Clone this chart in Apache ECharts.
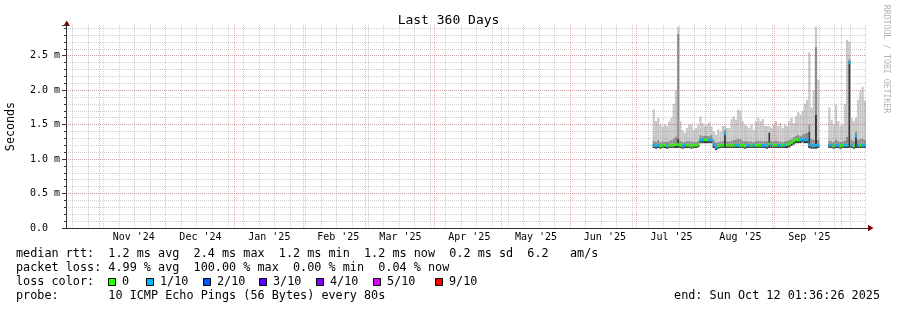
<!DOCTYPE html>
<html><head><meta charset="utf-8">
<script src="https://cdn.jsdelivr.net/npm/echarts@6/dist/echarts.min.js"></script>
<style>html,body{margin:0;padding:0;background:#fff}#c{width:897px;height:310px}</style>
</head><body><div id="c"></div>
<script>
// ---------------- data ----------------
const graphStartUTC = [2024, 9, 17, 1, 36, 26];   // window start (Oct 17 2024 01:36:26)
const graphDays = 360;
const firstDataDay = '2025-07-08';    // first day with measurements
const monthNames = ['Jan','Feb','Mar','Apr','May','Jun','Jul','Aug','Sep','Oct','Nov','Dec'];

// values in milliseconds, one per day from firstDataDay (null = no data)
const medianMs = [
  1.20,1.19,1.20,1.19,1.20,1.20,1.19,1.20,1.20,1.20,1.21,1.21,1.20,1.19,1.20,1.20,1.20,1.19,1.20,1.20,1.21,
  1.28,1.28,1.28,1.28,1.28,1.28,
  1.21,1.17,1.19,1.20,1.20,1.37,1.20,1.20,1.20,1.20,1.20,1.20,1.20,1.20,1.19,1.20,1.20,1.20,1.20,1.20,
  1.20,1.20,1.20,1.20,1.19,1.22,1.20,1.20,1.20,1.20,1.20,1.20,1.20,1.21,1.22,1.24,1.26,1.28,1.28,1.28,
  1.29,1.28,1.28,1.21,1.20,1.19,1.20,1.20,
  null,null,null,null,
  1.20,1.20,1.19,1.20,1.20,1.19,1.20,1.20,1.20,2.40,1.20,1.19,1.33,1.20,1.20,1.20,1.20
];
const lossPings = [
  1,1,1,0,0,0,1,0,0,0,0,0,0,1,1,0,0,0,0,0,0,
  1,1,0,0,1,1,
  1,1,0,0,0,1,0,0,0,0,1,1,0,0,0,1,1,0,1,0,
  0,0,1,1,1,0,1,0,0,1,1,0,1,0,0,0,0,0,0,1,
  1,1,1,1,1,1,1,1,
  null,null,null,null,
  1,1,0,1,1,0,0,1,1,1,1,0,1,1,0,1,1
];
const smokeMinMs = [
  1.16,1.15,1.16,1.15,1.16,1.16,1.15,1.16,1.16,1.16,1.16,1.16,1.16,1.15,1.16,1.16,1.16,1.15,1.16,1.16,1.17,
  1.23,1.23,1.23,1.23,1.23,1.23,
  1.16,1.13,1.15,1.16,1.16,1.16,1.16,1.16,1.16,1.16,1.16,1.16,1.16,1.16,1.15,1.16,1.16,1.16,1.16,1.16,
  1.16,1.16,1.16,1.16,1.15,1.16,1.16,1.16,1.16,1.16,1.16,1.16,1.16,1.16,1.17,1.19,1.21,1.23,1.23,1.23,
  1.24,1.23,1.23,1.16,1.15,1.15,1.15,1.16,
  null,null,null,null,
  1.16,1.16,1.15,1.16,1.16,1.15,1.16,1.16,1.16,1.16,1.16,1.15,1.16,1.16,1.16,1.16,1.16
];
const smokeDarkMs = [
  1.22,1.21,1.22,1.21,1.22,1.22,1.21,1.22,1.22,1.22,1.23,1.30,1.22,1.21,1.22,1.22,1.22,1.21,1.22,1.22,1.23,
  1.30,1.30,1.30,1.30,1.30,1.30,
  1.23,1.19,1.21,1.22,1.22,1.40,1.22,1.22,1.22,1.22,1.22,1.22,1.22,1.22,1.21,1.22,1.22,1.22,1.22,1.22,
  1.22,1.22,1.22,1.22,1.21,1.38,1.22,1.22,1.22,1.22,1.22,1.22,1.22,1.23,1.24,1.26,1.28,1.30,1.30,1.30,
  1.31,1.30,1.30,1.40,1.22,1.21,1.64,1.22,
  null,null,null,null,
  1.22,1.22,1.21,1.22,1.22,1.21,1.22,1.22,1.22,2.43,1.22,1.21,1.35,1.22,1.22,1.22,1.22
];
const smokeMidMs = [
  1.27,1.25,1.28,1.25,1.26,1.25,1.25,1.27,1.28,1.30,1.33,2.82,1.27,1.25,1.25,1.26,1.27,1.26,1.25,1.25,1.27,
  1.35,1.34,1.34,1.34,1.34,1.35,
  1.28,1.24,1.25,1.26,1.26,1.42,1.26,1.26,1.27,1.28,1.28,1.30,1.29,1.27,1.26,1.26,1.26,1.26,1.25,1.27,
  1.27,1.27,1.26,1.26,1.26,1.40,1.26,1.26,1.27,1.26,1.26,1.25,1.26,1.27,1.28,1.30,1.32,1.34,1.35,1.34,
  1.36,1.37,1.38,1.50,1.30,1.28,2.63,1.28,
  null,null,null,null,
  1.27,1.26,1.25,1.28,1.26,1.25,1.26,1.27,1.32,2.45,1.28,1.26,1.40,1.28,1.30,1.30,1.28
];
const smokeMaxMs = [
  1.72,1.55,1.60,1.50,1.47,1.50,1.48,1.55,1.60,1.80,2.00,2.92,1.55,1.42,1.38,1.45,1.50,1.50,1.42,1.45,1.50,
  1.62,1.52,1.48,1.50,1.53,1.47,
  1.40,1.35,1.43,1.40,1.48,1.48,1.45,1.45,1.58,1.62,1.57,1.72,1.70,1.55,1.50,1.48,1.45,1.50,1.42,1.55,
  1.60,1.55,1.58,1.48,1.48,1.48,1.45,1.50,1.55,1.48,1.52,1.45,1.50,1.48,1.55,1.60,1.52,1.62,1.68,1.65,
  1.70,1.80,1.86,2.55,1.75,2.00,2.92,2.15,
  null,null,null,null,
  1.75,1.57,1.50,1.79,1.55,1.48,1.50,1.80,2.73,2.70,1.60,1.55,1.60,1.86,1.99,2.05,1.85
];

const lossLabels = ['0','1/10','2/10','3/10','4/10','5/10','9/10'];
const lossColors = ['#26ff00','#00b8ff','#0059ff','#5e00ff','#7e00ff','#dd00ff','#ff0000'];
const lossThresholds = [0,1,2,3,4,5,6];   // pings lost -> colour bucket

const statLines = [
  'median rtt:  1.2 ms avg  2.4 ms max  1.2 ms min  1.2 ms now  0.2 ms sd  6.2   am/s',
  'packet loss: 4.99 % avg  100.00 % max  0.00 % min  0.04 % now',
  'loss color:',
  'probe:       10 ICMP Echo Pings (56 Bytes) every 80s'
];
const endText = 'end: Sun Oct 12 01:36:26 2025';
const titleText = 'Last 360 Days';
const yMaxMs = 2.945;

// ---------------- build ----------------
const MONO = '"DejaVu Sans Mono", monospace';
const FONT_LEG = '11.8px ' + MONO;
const DAY = 86400000;
const T0 = Date.UTC.apply(null, graphStartUTC);
const cats = [];
for (let i = 0; i < graphDays; i++) cats.push(new Date(T0 + i * DAY).toISOString().slice(0, 10));
const off = Math.round((Date.parse(firstDataDay + 'T00:00:00Z') - Date.UTC(graphStartUTC[0], graphStartUTC[1], graphStartUTC[2])) / DAY);

function spread(fn) {
  const out = new Array(graphDays).fill('-');
  for (let i = 0; i < medianMs.length; i++) {
    if (medianMs[i] == null) continue;
    out[off + i] = fn(i);
  }
  return out;
}
function lossColor(n) {
  let k = 0;
  for (let j = 0; j < lossThresholds.length; j++) if (n >= lossThresholds[j]) k = j;
  return lossColors[k];
}
const medHalf = 0.02;
const r = v => Math.round(v * 1000) / 1000;

const baseData = spread(i => smokeMinMs[i]);
const darkData = spread(i => r(smokeDarkMs[i] - smokeMinMs[i]));
const midData = spread(i => r(smokeMidMs[i] - smokeDarkMs[i]));
const lightData = spread(i => r(smokeMaxMs[i] - smokeMidMs[i]));
const medBase = spread(i => r(medianMs[i] - medHalf));
const medMark = spread(i => ({ value: 2 * medHalf, itemStyle: { color: lossColor(lossPings[i]) } }));

// layout
const GRID_L = 66, GRID_T = 25, GRID_W = 800, GRID_H = 203;
const RED = 'rgba(224,80,80,0.45)';
const GRAY = 'rgba(143,143,143,0.42)';
const AXIS = '#333';

// vertical grid: month starts (major, red) and Sundays (minor, gray), in days since window start
// (snapped to pixel centres so the dotted lines stay crisp)
function snapDay(pos) {
  const px = GRID_L + pos * GRID_W / graphDays;
  return (Math.floor(px) + 0.5 - GRID_L) * graphDays / GRID_W;
}
const vLines = [];
for (let t = Date.UTC(2024, 9, 17); t < T0 + graphDays * DAY; t += DAY) {
  if (t <= T0) continue;
  const d = new Date(t);
  const pos = snapDay((t - T0) / DAY);
  if (d.getUTCDate() === 1) vLines.push({ xAxis: pos, lineStyle: { color: RED, type: [1, 1], width: 1 } });
  else if (d.getUTCDay() === 0) vLines.push({ xAxis: pos, lineStyle: { color: GRAY, type: [1, 1], width: 1 } });
}

const barCommon = { type: 'bar', xAxisIndex: 0, yAxisIndex: 0, barCategoryGap: 0, barGap: '-100%', silent: true };
const series = [
  Object.assign({}, barCommon, { name: 'min', stack: 'smoke', data: baseData, itemStyle: { color: 'rgba(0,0,0,0)' } }),
  Object.assign({}, barCommon, { name: 'dark', stack: 'smoke', data: darkData, itemStyle: { color: '#3a3a3a' } }),
  Object.assign({}, barCommon, { name: 'mid', stack: 'smoke', data: midData, itemStyle: { color: '#8c8c8c' } }),
  Object.assign({}, barCommon, { name: 'max', stack: 'smoke', data: lightData, itemStyle: { color: '#c8c8c8' } }),
  Object.assign({}, barCommon, { name: 'medbase', stack: 'med', data: medBase, itemStyle: { color: 'rgba(0,0,0,0)' } }),
  Object.assign({}, barCommon, { name: 'median', stack: 'med', data: medMark }),
  {
    type: 'line', name: 'vgrid', xAxisIndex: 1, yAxisIndex: 0, data: [], silent: true, z: 3,
    markLine: { silent: true, symbol: ['none', 'none'], label: { show: false }, animation: false, data: vLines }
  }
];

const graphic = [];
statLines.forEach((t, k) => {
  graphic.push({ type: 'text', x: 16, y: 254 + 14 * k, style: { text: t, font: FONT_LEG, fill: '#000', verticalAlign: 'middle', align: 'left' } });
});
const lossBoxX = [108, 146, 203, 259, 316, 373, 435];
lossLabels.forEach((lab, k) => {
  graphic.push({ type: 'rect', shape: { x: lossBoxX[k] + 0.5, y: 278.5, width: 7, height: 7 }, style: { fill: lossColors[k], stroke: '#000', lineWidth: 1 } });
  graphic.push({ type: 'text', x: lossBoxX[k] + 14, y: 282, style: { text: lab, font: FONT_LEG, fill: '#000', verticalAlign: 'middle', align: 'left' } });
});
graphic.push({ type: 'text', x: 880, y: 296, style: { text: endText, font: FONT_LEG, fill: '#000', verticalAlign: 'middle', align: 'right' } });
graphic.push({ type: 'text', x: 886, y: 59, rotation: -Math.PI / 2, style: { text: 'RRDTOOL / TOBI OETIKER', font: '8.2px ' + MONO, fill: '#b4b4b4', verticalAlign: 'middle', align: 'center' } });
graphic.push({ type: 'polygon', shape: { points: [[63.5, 26], [70, 26], [66.7, 20.5]] }, style: { fill: '#7f0000' } });
graphic.push({ type: 'polygon', shape: { points: [[868, 224.8], [868, 231.2], [873.5, 228]] }, style: { fill: '#7f0000' } });
graphic.push({ type: 'line', shape: { x1: 62, y1: 228.5, x2: 868, y2: 228.5 }, style: { stroke: AXIS, lineWidth: 1 } });

const option = {
  animation: false,
  backgroundColor: '#fff',
  textStyle: { fontFamily: MONO },
  title: { text: titleText, left: 'center', top: 9, textStyle: { fontFamily: MONO, fontSize: 13, fontWeight: 'normal', color: '#000' } },
  grid: { left: GRID_L, top: GRID_T, width: GRID_W, height: GRID_H, containLabel: false, outerBoundsMode: 'none' },
  xAxis: [
    {
      type: 'category', data: cats, boundaryGap: true, z: 3,
      axisLine: { show: true, lineStyle: { color: AXIS, width: 1 } },
      axisTick: { show: false },
      axisLabel: {
        interval: (i, v) => v.slice(8) === '16',
        formatter: v => monthNames[+v.slice(5, 7) - 1] + " '" + v.slice(2, 4),
        fontFamily: MONO, fontSize: 10, color: '#000', margin: 4
      },
      splitLine: { show: false }
    },
    {
      type: 'value', min: 0, max: graphDays, show: false,
      splitLine: { show: false }
    }
  ],
  yAxis: [
    {
      type: 'value', min: 0, max: yMaxMs, interval: 0.5, z: 3,
      axisLine: { show: true, lineStyle: { color: AXIS, width: 1 } },
      axisTick: { show: true, length: 4, lineStyle: { color: AXIS } },
      axisLabel: {
        formatter: v => (Math.abs(v / 0.5 - Math.round(v / 0.5)) > 1e-6) ? '' : (v === 0 ? '0.0  ' : v.toFixed(1) + ' m'),
        fontFamily: MONO, fontSize: 10, color: '#000', margin: 6
      },
      splitLine: { show: true, showMinLine: false, showMaxLine: false, lineStyle: { color: RED, width: 1, type: [1, 1] } },
      name: 'Seconds', nameLocation: 'middle', nameRotate: 90, nameGap: 49,
      nameTextStyle: { fontFamily: MONO, fontSize: 11.7, color: '#000' }
    },
    {
      type: 'value', min: 0, max: yMaxMs, interval: 0.1, position: 'left', z: 3,
      axisLine: { show: false },
      axisTick: { show: true, length: 2, lineStyle: { color: AXIS } },
      axisLabel: { show: false },
      splitLine: { show: true, showMinLine: false, showMaxLine: false, lineStyle: { color: GRAY, width: 1, type: [1, 1] } }
    }
  ],
  series: series,
  graphic: graphic
};

const chart = echarts.init(document.getElementById('c'), null, { renderer: 'canvas' });
chart.setOption(option);
</script>
</body></html>
